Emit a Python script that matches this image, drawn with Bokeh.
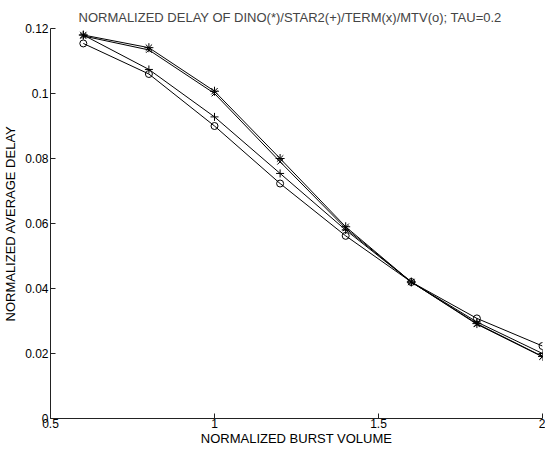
from bokeh.plotting import figure
from bokeh.models import FixedTicker, CustomJSTickFormatter, Range1d
from bokeh.embed import file_html
from bokeh.resources import INLINE

x = [0.6, 0.8, 1.0, 1.2, 1.4, 1.6, 1.8, 2.0]
dino = [0.1180, 0.1141, 0.1007, 0.0800, 0.0590, 0.0420, 0.0292, 0.0191]
star2 = [0.1180, 0.1074, 0.0928, 0.0754, 0.0580, 0.0420, 0.0297, 0.0200]
term = [0.1177, 0.1134, 0.1000, 0.0790, 0.0585, 0.0420, 0.0290, 0.0190]
mtv = [0.1154, 0.1060, 0.0900, 0.0723, 0.0562, 0.0420, 0.0308, 0.0223]
x_ticks = [0.5, 1.0, 1.5, 2.0]
y_ticks = [0, 0.02, 0.04, 0.06, 0.08, 0.1, 0.12]

FONT = "Liberation Sans"

p = figure(width=545, height=454, output_backend="svg", toolbar_location=None,
           x_range=Range1d(0.5, 2.0), y_range=Range1d(0, 0.12),
           title="NORMALIZED DELAY OF DINO(*)/STAR2(+)/TERM(x)/MTV(o); TAU=0.2",
           min_border_left=49, min_border_right=3, min_border_top=28, min_border_bottom=36)

p.title.text_font = FONT
p.title.text_font_size = "13px"
p.title.text_font_style = "normal"
p.title.align = "left"
p.title.offset = 28
p.title.standoff = 8

p.outline_line_color = None
p.xgrid.visible = False
p.ygrid.visible = False
p.background_fill_color = "white"
p.border_fill_color = "white"

fmt = CustomJSTickFormatter(code="return String(Math.round(tick*1000)/1000);")
for ax, ticks in ((p.xaxis, x_ticks), (p.yaxis, y_ticks)):
    ax.ticker = FixedTicker(ticks=ticks)
    ax.formatter = fmt
    ax.major_tick_in = 5
    ax.major_tick_out = 0
    ax.minor_tick_line_color = None
    ax.axis_line_color = "#222222"
    ax.major_tick_line_color = "#222222"
    ax.major_label_text_font = FONT
    ax.major_label_text_font_size = "12px"
    ax.major_label_text_color = "black"
    ax.axis_label_text_font = FONT
    ax.axis_label_text_font_size = "13px"
    ax.axis_label_text_font_style = "normal"
    ax.axis_label_text_color = "black"

p.xaxis.axis_label = "NORMALIZED BURST VOLUME"
p.yaxis.axis_label = "NORMALIZED AVERAGE DELAY"
p.xaxis.major_label_standoff = 0
p.xaxis.axis_label_standoff = 0
p.yaxis.major_label_standoff = 2
p.yaxis.axis_label_standoff = 4

series = [(dino, "asterisk", 9), (star2, "cross", 8), (term, "x", 8), (mtv, "circle", 7)]
for ys, mk, sz in series:
    p.line(x, ys, line_color="black", line_width=1)
    p.scatter(x, ys, marker=mk, size=sz, line_color="black", fill_color=None, line_width=1)

open("out.html", "w").write(file_html(p, INLINE))
